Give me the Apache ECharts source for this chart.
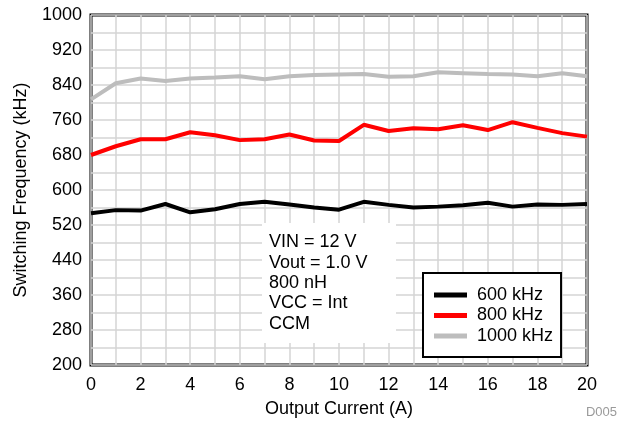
<!DOCTYPE html>
<html>
<head>
<meta charset="utf-8">
<script src="https://cdn.jsdelivr.net/npm/echarts@6/dist/echarts.min.js"></script>
<style>html,body{margin:0;padding:0;background:#fff}#c{width:621px;height:431px}</style>
</head>
<body>
<div id="c"></div>
<script>
const current = [0,1,2,3,4,5,6,7,8,9,10,11,12,13,14,15,16,17,18,19,20];
const f600 = [547,554,553,568,549,556,568,573,567,560,555,573,566,560,562,565,571,562,567,566,568];
const f800 = [680,700,716,716,732,725,714,716,727,713,712,749,735,741,739,748,737,755,742,730,722];
const f1000 = [807,844,855,849,855,857,860,853,860,863,864,865,859,860,869,867,865,864,860,867,860];
const seriesNames = ['600 kHz','800 kHz','1000 kHz'];
const notes = ['VIN = 12 V','Vout = 1.0 V','800 nH','VCC = Int','CCM'];

const font = 'Liberation Sans, Arial, Helvetica, sans-serif';
const fs = 18;
const chart = echarts.init(document.getElementById('c'));
function pairs(ys){ return current.map((x,i)=>[x, ys[i]]); }
const colors = ['#000000','#ff0000','#bdbdbd'];
chart.setOption({
  animation:false,
  textStyle:{fontFamily:font},
  grid:{left:91,right:34,top:15,bottom:66,show:true,borderColor:'#000',borderWidth:3,backgroundColor:'transparent'},
  xAxis:{type:'value',min:0,max:20,interval:1,
    name:'Output Current (A)',nameLocation:'middle',nameGap:35,
    nameTextStyle:{fontSize:fs,color:'#000',fontFamily:font},
    axisLine:{show:false},axisTick:{show:false},
    axisLabel:{fontSize:fs,color:'#000',fontFamily:font,margin:11,formatter:v=>v%2===0?String(v):''},
    splitLine:{show:true,lineStyle:{color:'#d4d4d4',width:1.5}}},
  yAxis:{type:'value',min:200,max:1000,interval:40,
    name:'Switching Frequency (kHz)',nameLocation:'middle',nameGap:61,
    nameTextStyle:{fontSize:fs,color:'#000',fontFamily:font},
    axisLine:{show:false},axisTick:{show:false},
    axisLabel:{fontSize:fs,color:'#000',fontFamily:font,margin:9,formatter:v=>((v-200)%80===0)?String(v):''},
    splitLine:{show:true,lineStyle:{color:'#d4d4d4',width:1.5}}},
  legend:{orient:'vertical',left:423,top:273,padding:[13,8,12,11],itemGap:2.5,
    itemWidth:33,itemHeight:5,icon:'rect',
    borderColor:'#000',borderWidth:2,backgroundColor:'#fff',
    textStyle:{fontSize:fs,color:'#000',fontFamily:font,padding:[0,0,0,5]},
    data:seriesNames},
  series:[f600,f800,f1000].map((d,i)=>({
    name:seriesNames[i],type:'line',data:pairs(d),showSymbol:false,symbol:'none',
    color:colors[i],lineStyle:{width:4,color:colors[i]},z:3
  })),
  graphic:[
    {type:'rect',left:262,top:223,shape:{width:134,height:120},style:{fill:'#fff'},z:5},
    {type:'text',left:269,top:232,z:6,style:{text:notes.join('\n'),font:fs+'px '+font,fill:'#000',lineHeight:20.4}},
    {type:'text',right:4,top:406,z:6,style:{text:'D005',font:'13px '+font,fill:'#9a9a9a'}}
  ]
});
</script>
</body>
</html>
